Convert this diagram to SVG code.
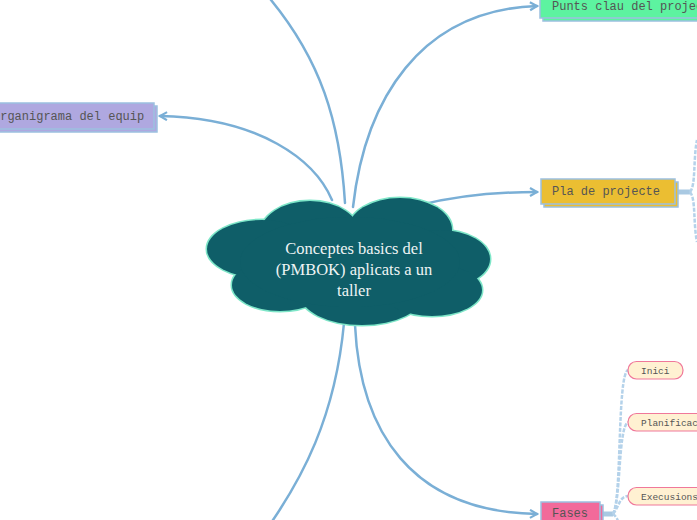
<svg xmlns="http://www.w3.org/2000/svg" width="697" height="520" viewBox="0 0 697 520">
<defs>
<style>
.conn{fill:none;stroke:#7aafd6;stroke-width:2.5;stroke-linecap:round}
.hub{fill:none;stroke:#a9c9e2;stroke-width:5}
.br{fill:none;stroke:#b4d2ea;stroke-width:2.5;stroke-dasharray:4 1.5}
.lbl{font-family:"Liberation Mono","Courier New",monospace;font-size:12px;fill:#555555}
.sub{font-family:"Liberation Mono","Courier New",monospace;font-size:9.5px;fill:#555555}
.pill{fill:#fff1d2;stroke:#f0789a;stroke-width:1.2}
.cl-s{fill:#7ee6c8;stroke:#7ee6c8;stroke-width:3}
.cl-f{fill:#0f5e68}
</style>
<marker id="arr" markerWidth="12" markerHeight="12" refX="9" refY="5" orient="auto" markerUnits="userSpaceOnUse">
<path d="M2,1 L9,5 L2,9" fill="none" stroke="#7aafd6" stroke-width="2.2" stroke-linejoin="miter"/>
</marker>
</defs>

<g id="connectors">
<path class="conn" d="M345,203 C340,120 320,60 271,0"/>
<path class="conn" d="M332,200 C315,160 260,118 160,116" marker-end="url(#arr)"/>
<path class="conn" d="M353,207 C365,100 420,10 537,6" marker-end="url(#arr)"/>
<path class="conn" d="M420,205 C460,195 500,192 537,192" marker-end="url(#arr)"/>
<path class="conn" d="M355,325 C360,430 410,512 537,514" marker-end="url(#arr)"/>
<path class="conn" d="M344,323 C335,420 300,480 273,520"/>
<path class="hub" d="M675,192 L690,192"/>
<path class="br" d="M690,192 C696,185 693,160 697,140"/>
<path class="br" d="M690,192 C696,199 693,222 697,242"/>
<path class="hub" d="M600,514 L613,514"/>
<path class="br" d="M613,514 C622,500 617,375 628,370"/>
<path class="br" d="M613,514 C621,500 618,428 628,422"/>
<path class="br" d="M613,514 C620,505 619,497 628,496"/>
<path class="br" d="M613,514 C618,518 618,522 620,526"/>
</g>

<g id="center">
<g class="cl-s">
<ellipse cx="310" cy="234" rx="50" ry="33"/>
<ellipse cx="400" cy="230" rx="52" ry="32"/>
<ellipse cx="262" cy="249" rx="55" ry="29"/>
<ellipse cx="440" cy="259" rx="50" ry="29"/>
<ellipse cx="280" cy="285" rx="48" ry="26"/>
<ellipse cx="362" cy="294" rx="62" ry="31"/>
<ellipse cx="432" cy="290" rx="50" ry="26"/>
</g>
<g class="cl-f">
<ellipse cx="310" cy="234" rx="50" ry="33"/>
<ellipse cx="400" cy="230" rx="52" ry="32"/>
<ellipse cx="262" cy="249" rx="55" ry="29"/>
<ellipse cx="440" cy="259" rx="50" ry="29"/>
<ellipse cx="280" cy="285" rx="48" ry="26"/>
<ellipse cx="362" cy="294" rx="62" ry="31"/>
<ellipse cx="432" cy="290" rx="50" ry="26"/>
<ellipse cx="350" cy="262" rx="110" ry="45"/>
</g>
<g font-family="'Liberation Serif','Times New Roman',serif" font-size="16.5" fill="#eef4f4" text-anchor="middle">
<text x="354" y="254">Conceptes basics del</text>
<text x="354" y="275">(PMBOK) aplicats a un</text>
<text x="354" y="296">taller</text>
</g>
</g>

<g id="organigrama">
<rect x="-16" y="106" width="173" height="26" fill="#afa8e0" stroke="#9cc0e0" stroke-width="1.5"/>
<rect x="-19" y="103" width="173" height="26" fill="#afa8e0" stroke="#9cc0e0" stroke-width="1.5"/>
<text class="lbl" x="-7" y="120">Organigrama del equip</text>
</g>

<g id="punts">
<rect x="543" y="-5" width="170" height="26" fill="#5df3a0" stroke="#9cc0e0" stroke-width="1.5"/>
<rect x="540" y="-8" width="170" height="26" fill="#5df3a0" stroke="#9cc0e0" stroke-width="1.5"/>
<text class="lbl" x="552" y="10">Punts clau del projecte</text>
</g>

<g id="pla">
<rect x="544" y="182" width="134" height="25" fill="#ebbe32" stroke="#9cc0e0" stroke-width="1.5"/>
<rect x="541" y="179" width="134" height="25" fill="#ebbe32" stroke="#9cc0e0" stroke-width="1.5"/>
<text class="lbl" x="552" y="195">Pla de projecte</text>
</g>

<g id="fases">
<rect x="544" y="505" width="59" height="25" fill="#f26a9a" stroke="#9cc0e0" stroke-width="1.5"/>
<rect x="541" y="502" width="59" height="25" fill="#f26a9a" stroke="#9cc0e0" stroke-width="1.5"/>
<text class="lbl" x="552" y="517">Fases</text>
</g>

<g id="inici">
<rect class="pill" x="628" y="361.5" width="55" height="17.5" rx="8.5"/>
<text class="sub" x="641" y="373.5">Inici</text>
</g>
<g id="planificacio">
<rect class="pill" x="628" y="413.5" width="90" height="17.5" rx="8.5"/>
<text class="sub" x="641" y="425.5">Planificació</text>
</g>
<g id="execusions">
<rect class="pill" x="628" y="487.5" width="90" height="17.5" rx="8.5"/>
<text class="sub" x="641" y="499.5">Execusions</text>
</g>
</svg>
